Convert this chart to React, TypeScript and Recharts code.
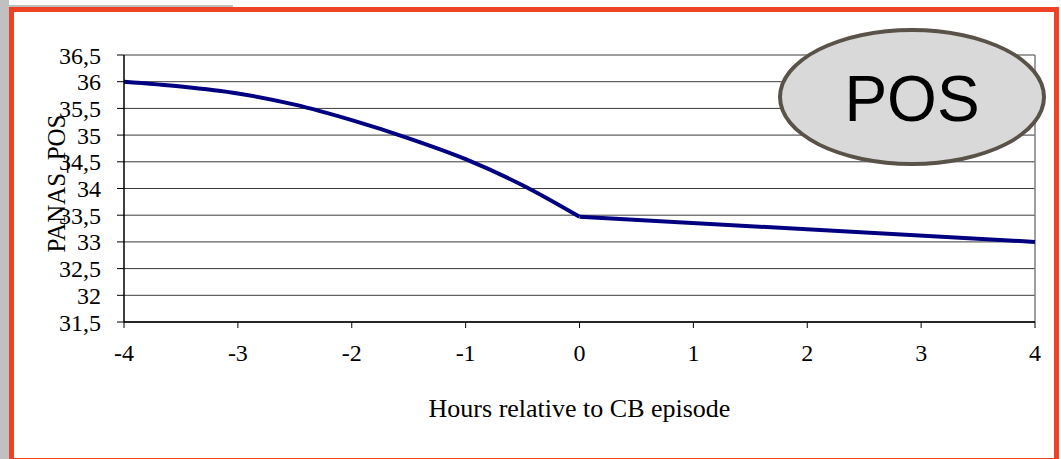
import { LineChart, Line, XAxis, YAxis, CartesianGrid, ReferenceLine } from 'recharts';

// hours before the CB episode (curved part) and after it (straight part)
const hoursBefore = [-4, -3.5, -3, -2.5, -2, -1.5, -1, -0.5, 0];
const posBefore = [36.0, 35.91, 35.78, 35.57, 35.28, 34.94, 34.55, 34.06, 33.47];
const hoursAfter = [0, 4];
const posAfter = [33.47, 33.0];

const xTicks = [-4, -3, -2, -1, 0, 1, 2, 3, 4];
const yTicks = [31.5, 32, 32.5, 33, 33.5, 34, 34.5, 35, 35.5, 36, 36.5];

const NAVY = '#000080';
const GRID = '#3a3a3a';
const SERIF = '"Liberation Serif", "Times New Roman", serif';

const before = hoursBefore.map((x, i) => ({ x, pos: posBefore[i] }));
const after = hoursAfter.map((x, i) => ({ x, pos: posAfter[i] }));

const fmtComma = (v: number) => String(v).replace('.', ',');

export default function App() {
  const tickStyle = { fontSize: 24, fill: '#000', fontFamily: SERIF };

  return (
    <div style={{ position: 'relative', width: 1061, height: 459, overflow: 'hidden', background: '#fff' }}>
      <style>{'body{margin:0}'}</style>
      {/* page edge */}
      <div style={{ position: 'absolute', left: 0, top: 0, width: 9, height: 459, background: '#c0c0c0' }} />
      <div style={{ position: 'absolute', left: 0, top: 5, width: 233, height: 2, background: '#c0c0c0' }} />
      {/* orange frame */}
      <div
        style={{
          position: 'absolute', left: 9, top: 7, width: 1050, height: 456,
          boxSizing: 'border-box', border: '5px solid #ef4123', background: '#fff',
        }}
      />

      <div style={{ position: 'absolute', left: 0, top: 0 }}>
        <LineChart width={1061} height={459} margin={{ top: 55, right: 26, bottom: 0, left: 44 }}>
          <CartesianGrid vertical={false} stroke={GRID} strokeWidth={1} />
          <XAxis
            dataKey="x"
            type="number"
            domain={[-4, 4]}
            ticks={xTicks}
            interval={0}
            height={137}
            tickSize={6}
            tickMargin={16}
            tick={tickStyle}
            axisLine={{ stroke: '#000', strokeWidth: 1.5 }}
            tickLine={{ stroke: '#000' }}
            label={{
              value: 'Hours relative to CB episode',
              position: 'insideBottom',
              offset: 42,
              style: { fontSize: 26, fill: '#000', fontFamily: SERIF },
            }}
          />
          <YAxis
            type="number"
            domain={[31.5, 36.5]}
            ticks={yTicks}
            interval={0}
            width={80}
            tickSize={7}
            tickMargin={16}
            tickFormatter={fmtComma}
            tick={tickStyle}
            axisLine={{ stroke: '#000', strokeWidth: 1.5 }}
            tickLine={{ stroke: '#000' }}
            label={{
              value: 'PANAS_POS',
              angle: -90,
              position: 'insideLeft',
              offset: 12,
              dy: -5,
              style: { fontSize: 25, fill: '#000', fontFamily: SERIF, textAnchor: 'middle' },
            }}
          />
          <ReferenceLine x={4} stroke="#808080" strokeWidth={1.5} />
          <Line
            data={before}
            dataKey="pos"
            type="monotone"
            stroke={NAVY}
            strokeWidth={4}
            dot={false}
            activeDot={false}
            isAnimationActive={false}
          />
          <Line
            data={after}
            dataKey="pos"
            type="linear"
            stroke={NAVY}
            strokeWidth={4}
            dot={false}
            activeDot={false}
            isAnimationActive={false}
          />
        </LineChart>
      </div>

      {/* POS badge */}
      <div
        style={{
          position: 'absolute', left: 778, top: 28, width: 268, height: 138,
          boxSizing: 'border-box', border: '4px solid #595249', borderRadius: '50%',
          background: '#d9d9d9', display: 'flex', alignItems: 'center', justifyContent: 'center',
          fontFamily: '"Liberation Sans", Arial, sans-serif', fontSize: 64, color: '#000',
          lineHeight: 1, paddingTop: 4,
        }}
      >
        POS
      </div>
    </div>
  );
}
